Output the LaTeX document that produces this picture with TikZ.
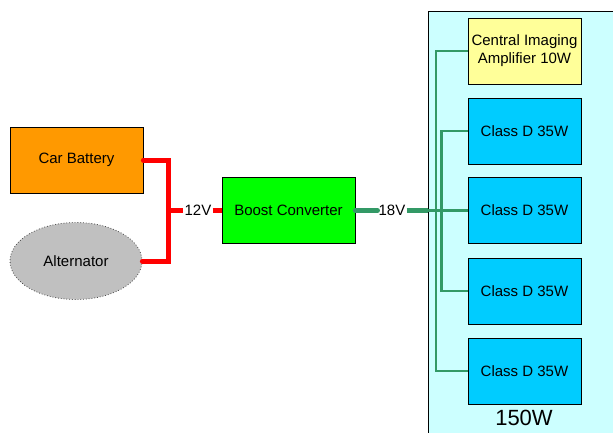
\documentclass[tikz,border=0pt]{standalone}
\usepackage{fontspec}
\usetikzlibrary{shapes.geometric}
\setmainfont{Liberation Sans}
\definecolor{battfill}{HTML}{FF9900}
\definecolor{altfill}{HTML}{C0C0C0}
\definecolor{boostfill}{HTML}{00FF00}
\definecolor{sysfill}{HTML}{CCFFFF}
\definecolor{cimfill}{HTML}{FFFF99}
\definecolor{ampfill}{HTML}{00CCFF}
\definecolor{wirered}{HTML}{FF0000}
\definecolor{wiregreen}{HTML}{339966}
\begin{document}
\begin{tikzpicture}[x=1pt,y=-1pt,
  lbl/.style={font=\fontsize{15}{18}\selectfont, align=center},
  box/.style={lbl, draw=black, line width=0.8pt, inner sep=0pt, minimum height=66pt},
  srcbox/.style={box, minimum width=133pt},
  ampbox/.style={box, minimum width=113pt, fill=ampfill},
  volt/.style={lbl, inner sep=1pt},
  redwire/.style={draw=wirered, line width=5pt},
  greenthick/.style={draw=wiregreen, line width=5pt},
  greenthin/.style={draw=wiregreen, line width=2.4pt}]
\useasboundingbox (0,0) rectangle (613,432);
\begin{scope}
\clip (0,0) rectangle (613,432);
\node (sys) [draw=black, line width=0.8pt, fill=sysfill, anchor=north west, minimum width=200pt, minimum height=440pt, inner sep=0pt] at (428,11) {};
\end{scope}
\node (total) [font=\fontsize{22}{26}\selectfont] at (524,418) {150W};
\node (bat) [srcbox, fill=battfill] at (76.5,160) {Car Battery};
\node (alt) [lbl, ellipse, draw=black!70, dotted, line width=0.8pt, fill=altfill, minimum width=132pt, minimum height=77pt, inner sep=0pt] at (76,261) {Alternator};
\node (boost) [srcbox, fill=boostfill] at (288.5,210.5) {Boost Converter};
\node (v12) [volt] at (198,210.5) {12V};
\node (v18) [volt] at (392,210.5) {18V};
\node (cim) [box, minimum width=113pt, fill=cimfill] at (524.5,51) {Central Imaging\\Amplifier 10W};
\node (a1) [ampbox] at (524.5,131) {Class D 35W};
\node (a2) [ampbox] at (524.5,210.5) {Class D 35W};
\node (a3) [ampbox] at (524.5,291) {Class D 35W};
\node (a4) [ampbox] at (524.5,371) {Class D 35W};
% red wiring
\coordinate (rj1) at (168,160);
\coordinate (rj2) at (168,261);
\coordinate (rj3) at (168,210.5);
\draw[redwire, line cap=round] (bat.east) -- (rj1) -- (rj2) -- (alt.east);
\draw[redwire] (rj3) -- (v12.west);
\draw[redwire] (v12.east) -- (boost.west);
% green wiring
\coordinate (gin) at (428,210.5);
\draw[greenthick, line cap=round] (boost.east) -- (v18.west);
\draw[greenthick] (v18.east) -- (gin);
\draw[greenthin] (gin) -- (a2.west);
\coordinate (ga) at (436,51);
\coordinate (gb) at (436,371);
\coordinate (gc) at (441.5,131);
\coordinate (gd) at (441.5,291);
\draw[greenthin] (cim.west) -- (ga) -- (gb) -- (a4.west);
\draw[greenthin] (a1.west) -- (gc) -- (gd) -- (a3.west);
\end{tikzpicture}
\end{document}
